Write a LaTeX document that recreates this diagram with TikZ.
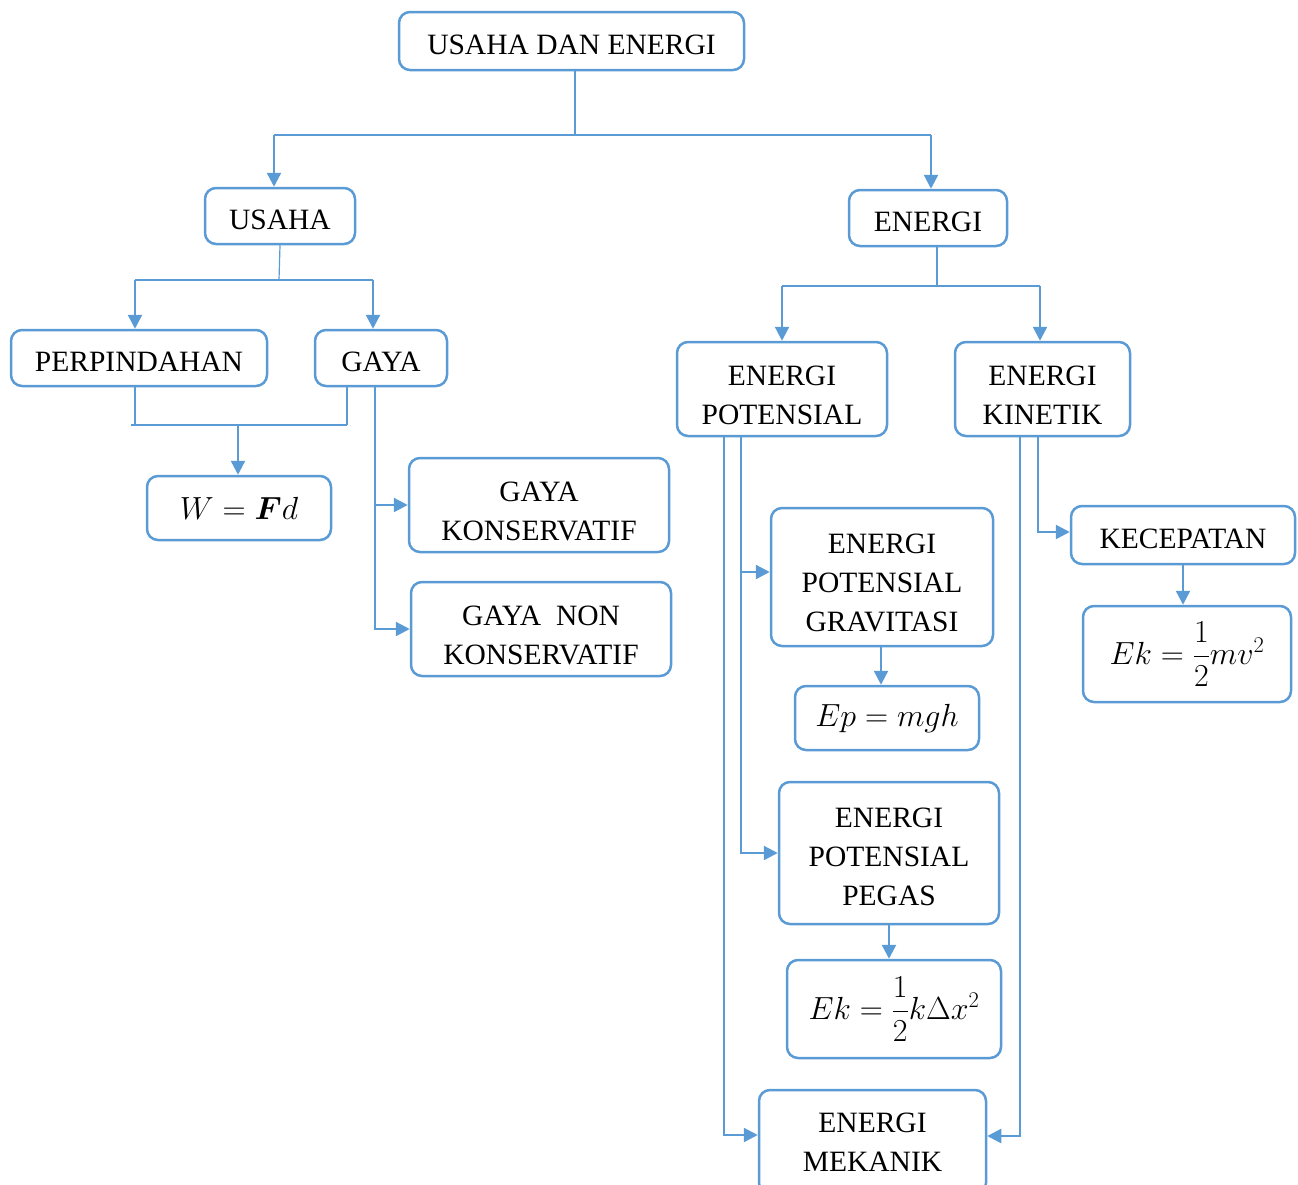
\RequirePackage{fix-cm}
\documentclass[tikz,border=0pt]{standalone}
\usepackage{amsmath}
\usepackage{fontspec}
\setmainfont{Liberation Serif}
\usetikzlibrary{arrows.meta}
\definecolor{bl}{HTML}{5B9BD5}
\newcommand\myupa{\rule{0pt}{27pt}}
\newcommand\myupb{\rule{0pt}{32pt}}
\begin{document}
\begin{tikzpicture}[x=1pt,y=-1pt,
  box/.style={draw=bl, line width=2.5pt, rounded corners=11pt, align=center, inner sep=0pt,
              font=\fontsize{29.5}{39}\selectfont, text=black},
  mbox/.style={box, font=\fontsize{32}{40}\selectfont},
  thinln/.style={draw=bl, line width=1.2pt},
  arr/.style={draw=bl, line width=2.4pt, -{Triangle[length=14pt,width=14pt]}},
]
\useasboundingbox (0,0) rectangle (1298,1184);
\clip (0,0) rectangle (1298,1184);

% boxes
\node[box, minimum width=345, minimum height=58] (ue) at (571.5,41) {\myupa USAHA DAN ENERGI};
\node[box, minimum width=150, minimum height=56] (usaha) at (280,216) {\myupa USAHA};
\node[box, minimum width=158, minimum height=56] (energi) at (928,218) {\myupa ENERGI};
\node[box, minimum width=256, minimum height=56] (perp) at (139,358) {\myupa PERPINDAHAN};
\node[box, minimum width=132, minimum height=56] (gaya) at (381,358) {\myupa GAYA};
\node[mbox, minimum width=184, minimum height=64] (wfd) at (239,508) {$W=\boldsymbol{F}d$};
\node[box, minimum width=260, minimum height=94] (gk) at (539,505) {\myupb GAYA\\KONSERVATIF};
\node[box, minimum width=260, minimum height=94] (gnk) at (541,629) {\myupb GAYA\ \ NON\\KONSERVATIF};
\node[box, minimum width=210, minimum height=94] (ep) at (782,389) {\myupb ENERGI\\POTENSIAL};
\node[box, minimum width=175, minimum height=94] (ek) at (1042.5,389) {\myupb ENERGI\\KINETIK};
\node[box, minimum width=222, minimum height=138] (epg) at (882,577) {\myupb ENERGI\\POTENSIAL\\GRAVITASI};
\node[mbox, minimum width=184, minimum height=64] (epf) at (887,718) {$Ep=mgh$};
\node[box, minimum width=220, minimum height=142] (epp) at (889,853) {\myupa ENERGI\\POTENSIAL\\PEGAS};
\node[mbox, minimum width=214, minimum height=98] (epeg) at (894,1009) {$Ek=\dfrac{1}{2}k\Delta x^2$};
\node[box, minimum width=227, minimum height=104] (em) at (872.5,1142) {ENERGI\\MEKANIK};
\node[box, minimum width=224, minimum height=58] (kec) at (1183,535) {\myupa KECEPATAN};
\node[mbox, minimum width=208, minimum height=96] (ekf) at (1187,654) {$Ek=\dfrac{1}{2}mv^2$};

% top tree
\coordinate (j1) at (575,135);
\draw[thinln] ([xshift=3.5pt]ue.south) -- (j1);
\draw[thinln] ([xshift=-6pt]usaha.north |- j1) -- ([xshift=3pt]energi.north |- j1);
\draw[arr] ([xshift=-6pt]usaha.north |- j1) -- ([xshift=-6pt]usaha.north);
\draw[arr] ([xshift=3pt]energi.north |- j1) -- ([xshift=3pt]energi.north);

% usaha tree
\coordinate (j2) at (279,280);
\draw[thinln] (usaha.south) -- (j2);
\draw[thinln] ([xshift=-4pt]perp.north |- j2) -- ([xshift=-8pt]gaya.north |- j2);
\draw[arr] ([xshift=-4pt]perp.north |- j2) -- ([xshift=-4pt]perp.north);
\draw[arr] ([xshift=-8pt]gaya.north |- j2) -- ([xshift=-8pt]gaya.north);

% energi tree
\coordinate (j3) at (937,286);
\draw[thinln] ([xshift=9pt]energi.south) -- (j3);
\draw[thinln] (ep.north |- j3) -- ([xshift=-2.5pt]ek.north |- j3);
\draw[arr] (ep.north |- j3) -- (ep.north);
\draw[arr] ([xshift=-2.5pt]ek.north |- j3) -- ([xshift=-2.5pt]ek.north);

% perpindahan + gaya -> W = Fd
\coordinate (j4) at (238,425);
\draw[thinln] ([xshift=-4pt]perp.south) -- ([xshift=-4pt]perp.south |- j4);
\draw[thinln] ([xshift=-34pt]gaya.south) -- ([xshift=-34pt]gaya.south |- j4);
\draw[thinln] ([xshift=-8pt]perp.south |- j4) -- ([xshift=-34pt]gaya.south |- j4);
\draw[arr] (j4) -- (j4 |- wfd.north);

% gaya -> konservatif / non konservatif
\draw[arr] ([xshift=-6pt]gaya.south) |- (gk.west);
\draw[arr] ([xshift=-6pt]gaya.south) |- (gnk.west);

% energi potensial branches
\draw[arr] ([xshift=-58pt]ep.south) |- ([yshift=7pt]em.west);
\draw[arr] ([xshift=-41pt]ep.south) |- ([yshift=5pt]epg.west);
\draw[arr] ([xshift=-41pt]ep.south) |- (epp.west);
\draw[arr] ([xshift=-1pt]epg.south) -- ([xshift=-1pt]epg.south |- epf.north);
\draw[arr] (epp.south) -- (epp.south |- epeg.north);

% energi kinetik branches
\draw[arr] ([xshift=-22.5pt]ek.south) |- ([yshift=6pt]em.east);
\draw[arr] ([xshift=-4.5pt]ek.south) |- ([yshift=3pt]kec.west);
\draw[arr] (kec.south) -- (kec.south |- ekf.north);
\end{tikzpicture}
\end{document}
